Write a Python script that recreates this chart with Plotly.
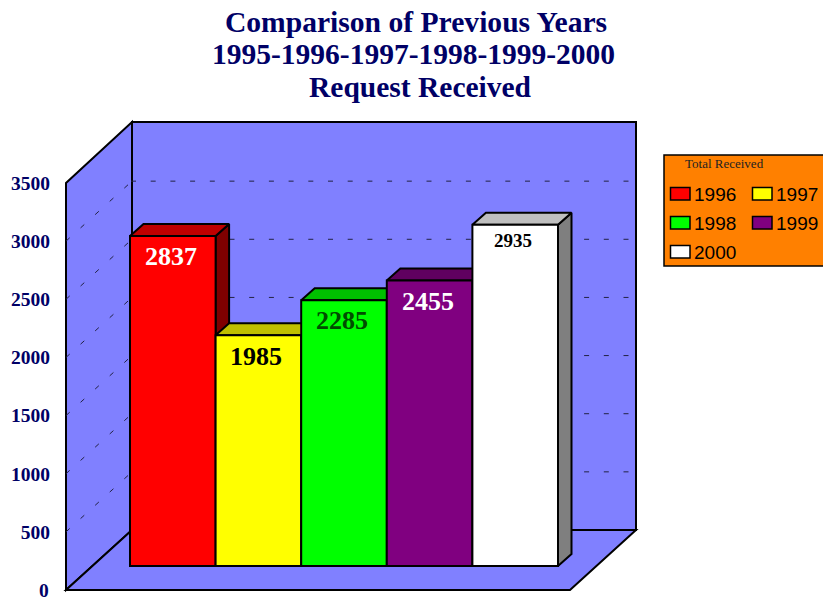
import plotly.graph_objects as go

# ---- data ----
years = ["1996", "1997", "1998", "1999", "2000"]
requests = [2837, 1985, 2285, 2455, 2935]
front_colors = ["#ff0000", "#ffff00", "#00ff00", "#800080", "#ffffff"]
top_colors = ["#bf0000", "#bfbf00", "#00bf00", "#600060", "#bfbfbf"]
side_colors = ["#7f0000", "#7f7f00", "#007f00", "#400040", "#7f7f7f"]
label_colors = ["#ffffff", "#000000", "#004d00", "#ffffff", "#000000"]
label_sizes = [26, 26, 26, 26, 19]
label_drops = [20, 21, 20, 21, 16]
y_ticks = [0, 500, 1000, 1500, 2000, 2500, 3000, 3500]
title_lines = ["Comparison of Previous Years", "1995-1996-1997-1998-1999-2000", "Request Received"]

# ---- frame geometry (page pixels) ----
W, H = 823, 598
L, R, T, B = 66, 636, 122, 590
PX_PER_UNIT = 407 / 3500
SLOT = 85.6
BAR_LEFT = 130
BAR_BASE_PX = 566
DEPTH_X, DEPTH_Y = 13.5, 12
WALL_X, WALL_Y = 66, 60
NAVY = "#000066"

xr = [(L - BAR_LEFT) / SLOT - 0.5, (R - BAR_LEFT) / SLOT - 0.5]
yr = [0, (B - T) / PX_PER_UNIT]
lift = (B - BAR_BASE_PX) / PX_PER_UNIT
dx = DEPTH_X / SLOT
dy = DEPTH_Y / PX_PER_UNIT


def px(x):
    return (x - L) / (R - L)


def py(y):
    return (B - y) / (B - T)


def path(points):
    return "M" + " L".join(f"{px(a):.5f},{py(b):.5f}" for a, b in points) + " Z"


def paper_shape(**kw):
    return dict(xref="paper", yref="paper", layer="below", **kw)


wall_line = dict(color="black", width=2)
shapes = [
    paper_shape(type="path", fillcolor="#8080ff", line=wall_line,
                path=path([(L, B), (L, B - 407), (L + WALL_X, T), (L + WALL_X, B - WALL_Y)])),
    paper_shape(type="path", fillcolor="#8080ff", line=wall_line,
                path=path([(L, B), (L + WALL_X, B - WALL_Y), (R, B - WALL_Y), (R - WALL_X, B)])),
    paper_shape(type="rect", x0=px(L + WALL_X), x1=px(R), y0=py(B - WALL_Y), y1=py(T),
                fillcolor="#8080ff", line=wall_line),
]
for v in y_ticks[1:-1]:
    yf = B - v * PX_PER_UNIT
    grid = dict(color="#222244", width=1, dash="5px,14.7px")
    shapes.append(paper_shape(type="line", x0=px(L), x1=px(L + WALL_X), y0=py(yf), y1=py(yf - WALL_Y), line=grid))
    shapes.append(paper_shape(type="line", x0=px(L + WALL_X - 1), x1=px(R), y0=py(yf - WALL_Y), y1=py(yf - WALL_Y), line=grid))

fig = go.Figure()

# top and side faces of each bar, behind all the fronts
for i, v in enumerate(requests):
    fig.add_trace(go.Scatter(
        x=[i + 0.5, i + 0.5 + dx, i + 0.5 + dx, i + 0.5, i + 0.5],
        y=[lift, lift + dy, v + lift + dy, v + lift, lift],
        mode="lines", fill="toself", fillcolor=side_colors[i],
        line=dict(color="black", width=2), hoverinfo="skip", showlegend=False))
    fig.add_trace(go.Scatter(
        x=[i - 0.5, i - 0.5 + dx, i + 0.5 + dx, i + 0.5, i - 0.5],
        y=[v + lift, v + lift + dy, v + lift + dy, v + lift, v + lift],
        mode="lines", fill="toself", fillcolor=top_colors[i],
        line=dict(color="black", width=2), hoverinfo="skip", showlegend=False))

# fronts, on an overlaid value axis whose zero sits at the bars' floor line
fig.add_trace(go.Bar(
    x=list(range(len(years))), y=requests, width=1, yaxis="y2",
    marker=dict(color=front_colors, line=dict(color="black", width=2)),
    customdata=years, hovertemplate="%{customdata}: %{y}<extra></extra>", showlegend=False))

annotations = []
for i, v in enumerate(requests):
    annotations.append(dict(
        x=i, y=v, xref="x", yref="y2", text=str(v), showarrow=False,
        xanchor="center", yanchor="middle",
        xshift=-2, yshift=-label_drops[i],
        font=dict(family="Liberation Serif", size=label_sizes[i], color=label_colors[i], weight="bold")))

# second and third title lines
for line, cx, cy in zip(title_lines[1:], [413.5, 420], [54, 87]):
    annotations.append(dict(
        x=px(cx), y=py(cy), xref="paper", yref="paper", text=line, showarrow=False,
        xanchor="center", yanchor="middle",
        font=dict(family="Liberation Serif", size=29.5, color=NAVY, weight="bold")))

# the lowest tick label would be dropped at the page edge by the axis, so it is placed on the same scale
annotations.append(dict(
    x=px(51), y=y_ticks[0], xref="paper", yref="y", text=str(y_ticks[0]), showarrow=False,
    xanchor="right", yanchor="middle",
    font=dict(family="Liberation Serif", size=19.5, color=NAVY, weight="bold")))

# legend panel
shapes.append(dict(type="rect", xref="paper", yref="paper", layer="above",
                   x0=px(664), x1=px(835), y0=py(266), y1=py(155),
                   fillcolor="#ff8000", line=dict(color="black", width=1.5)))
annotations.append(dict(
    x=px(724.5), y=py(163.5), xref="paper", yref="paper", text="Total Received", showarrow=False,
    xanchor="center", yanchor="middle",
    font=dict(family="Liberation Serif", size=13, color="#222222")))
col_x = [670.5, 752.5]
row_y = [194, 223, 252]
for i, (year, color) in enumerate(zip(years, front_colors)):
    cx = col_x[i % 2]
    cy = row_y[i // 2]
    shapes.append(dict(type="rect", xref="paper", yref="paper", layer="above",
                       x0=px(cx), x1=px(cx + 19.5), y0=py(cy + 6), y1=py(cy - 6.5),
                       fillcolor=color, line=dict(color="black", width=1.5)))
    annotations.append(dict(
        x=px(cx + 23), y=py(cy), xref="paper", yref="paper", text=year, showarrow=False,
        xanchor="left", yanchor="middle", xshift=-2,
        font=dict(family="Liberation Sans", size=19, color="black")))

fig.update_layout(
    width=W, height=H, autosize=False,
    margin=dict(l=L, r=W - R, t=T, b=H - B, pad=0),
    paper_bgcolor="white", plot_bgcolor="rgba(0,0,0,0)",
    showlegend=False, shapes=shapes, annotations=annotations,
    title=dict(text=title_lines[0], x=416 / W, xanchor="center", xref="container",
               y=1 - 22 / H, yanchor="middle", yref="container",
               font=dict(family="Liberation Serif", size=29.6, color=NAVY, weight="bold")),
    xaxis=dict(range=xr, visible=False, fixedrange=True),
    yaxis=dict(range=yr, tickvals=y_ticks[1:], showgrid=False, zeroline=False, showline=False,
               ticks="", ticklabelstandoff=15, fixedrange=True,
               tickfont=dict(family="Liberation Serif", size=19.5, color=NAVY, weight="bold")),
    yaxis2=dict(range=[yr[0] - lift, yr[1] - lift], overlaying="y", visible=False, fixedrange=True),
)

fig.write_html("out.html", config={"displayModeBar": False},
               post_script="document.body.style.margin='0';document.body.style.overflow='hidden';")
